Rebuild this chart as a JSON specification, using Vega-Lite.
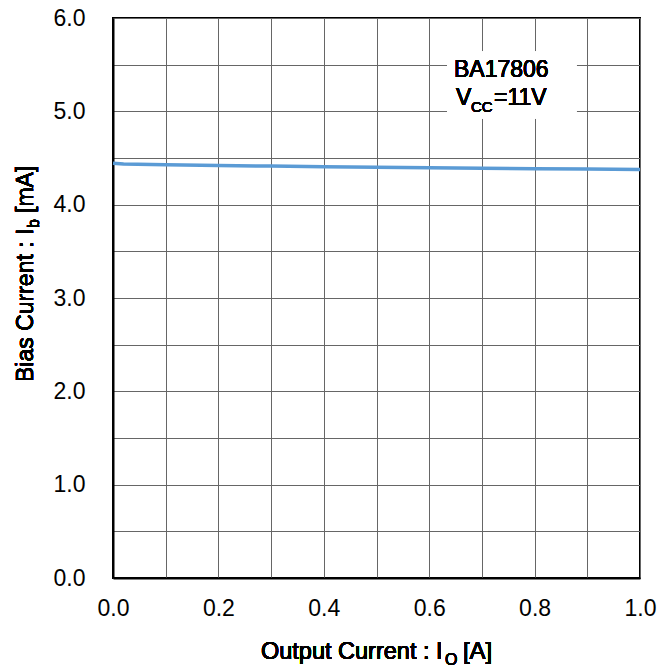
{
  "$schema": "https://vega.github.io/schema/vega-lite/v6.json",
  "width": 527,
  "height": 560,
  "autosize": {"type": "none"},
  "padding": {"left": 113, "top": 18, "right": 27, "bottom": 90},
  "background": "white",
  "view": {"stroke": "black", "strokeWidth": 2},
  "config": {
    "font": "Arial",
    "axis": {
      "grid": true,
      "gridColor": "#666666",
      "gridWidth": 1,
      "gridOpacity": 1,
      "ticks": false,
      "domain": true,
      "domainColor": "black",
      "domainWidth": 2,
      "labelFont": "Arial",
      "labelFontSize": 23,
      "labelFontWeight": 400,
      "labelColor": "black"
    },
    "text": {"font": "Arial", "fontWeight": 400, "color": "black", "baseline": "alphabetic", "align": "left"}
  },
  "data": {
    "values": [
      {"io": 0.0, "ib": 4.445},
      {"io": 0.02, "ib": 4.435},
      {"io": 0.1, "ib": 4.428},
      {"io": 0.2, "ib": 4.42},
      {"io": 0.3, "ib": 4.413},
      {"io": 0.4, "ib": 4.407},
      {"io": 0.5, "ib": 4.4},
      {"io": 0.6, "ib": 4.395},
      {"io": 0.7, "ib": 4.39},
      {"io": 0.8, "ib": 4.386},
      {"io": 0.9, "ib": 4.381},
      {"io": 1.0, "ib": 4.377}
    ]
  },
  "encoding": {
    "x": {
      "field": "io", "type": "quantitative",
      "scale": {"domain": [0, 1], "nice": false, "zero": false},
      "axis": {
        "title": null,
        "values": [0, 0.1, 0.2, 0.3, 0.4, 0.5, 0.6, 0.7, 0.8, 0.9, 1.0],
        "format": ".1f",
        "labelExpr": "round(datum.value*10) % 2 == 0 ? datum.label : ''",
        "labelPadding": 19,
        "labelBaseline": "top",
        "labelFlush": false,
        "labelOverlap": false
      }
    },
    "y": {
      "field": "ib", "type": "quantitative",
      "scale": {"domain": [0, 6], "nice": false, "zero": false},
      "axis": {
        "title": null,
        "values": [0, 0.5, 1, 1.5, 2, 2.5, 3, 3.5, 4, 4.5, 5, 5.5, 6],
        "format": ".1f",
        "labelExpr": "round(datum.value*2) % 2 == 0 ? datum.label : ''",
        "labelPadding": 28,
        "labelBaseline": "middle",
        "labelFlush": false,
        "labelOverlap": false
      }
    }
  },
  "layer": [
    {
      "mark": {"type": "line", "color": "#5B9BD5", "strokeWidth": 3.5}
    },
    {
      "mark": {"type": "rect", "fill": "white"},
      "encoding": {
        "x": {"datum": 0.6346, "type": "quantitative"},
        "x2": {"datum": 0.879},
        "y": {"datum": 4.925, "type": "quantitative"},
        "y2": {"datum": 5.639}
      }
    },
    {
      "mark": {"type": "text", "text": "BA17806", "fontSize": 23},
      "encoding": {
        "x": {"datum": 0.647, "type": "quantitative"},
        "y": {"datum": 5.365, "type": "quantitative"}
      }
    },
    {
      "mark": {"type": "text", "text": "V", "fontSize": 23},
      "encoding": {
        "x": {"datum": 0.6509, "type": "quantitative"},
        "y": {"datum": 5.068, "type": "quantitative"}
      }
    },
    {
      "mark": {"type": "text", "text": "CC", "fontSize": 15},
      "encoding": {
        "x": {"datum": 0.6793, "type": "quantitative"},
        "y": {"datum": 4.996, "type": "quantitative"}
      }
    },
    {
      "mark": {"type": "text", "text": "=11V", "fontSize": 23},
      "encoding": {
        "x": {"datum": 0.723, "type": "quantitative"},
        "y": {"datum": 5.068, "type": "quantitative"}
      }
    },
    {
      "mark": {"type": "text", "text": "Output Current : I", "fontSize": 23.5},
      "encoding": {
        "x": {"datum": 0.2808, "type": "quantitative"},
        "y": {"datum": -0.8679, "type": "quantitative"}
      }
    },
    {
      "mark": {"type": "text", "text": "O", "fontSize": 16},
      "encoding": {
        "x": {"datum": 0.630, "type": "quantitative"},
        "y": {"datum": -0.9321, "type": "quantitative"}
      }
    },
    {
      "mark": {"type": "text", "text": "[A]", "fontSize": 24},
      "encoding": {
        "x": {"datum": 0.664, "type": "quantitative"},
        "y": {"datum": -0.8679, "type": "quantitative"}
      }
    },
    {
      "mark": {"type": "text", "text": "Bias Current : I", "fontSize": 23, "angle": 270},
      "encoding": {
        "x": {"datum": -0.1518, "type": "quantitative"},
        "y": {"datum": 2.1, "type": "quantitative"}
      }
    },
    {
      "mark": {"type": "text", "text": "b", "fontSize": 16, "angle": 270},
      "encoding": {
        "x": {"datum": -0.1404, "type": "quantitative"},
        "y": {"datum": 3.75, "type": "quantitative"}
      }
    },
    {
      "mark": {"type": "text", "text": "[mA]", "fontSize": 23, "angle": 270},
      "encoding": {
        "x": {"datum": -0.1518, "type": "quantitative"},
        "y": {"datum": 3.911, "type": "quantitative"}
      }
    }
  ]
}
